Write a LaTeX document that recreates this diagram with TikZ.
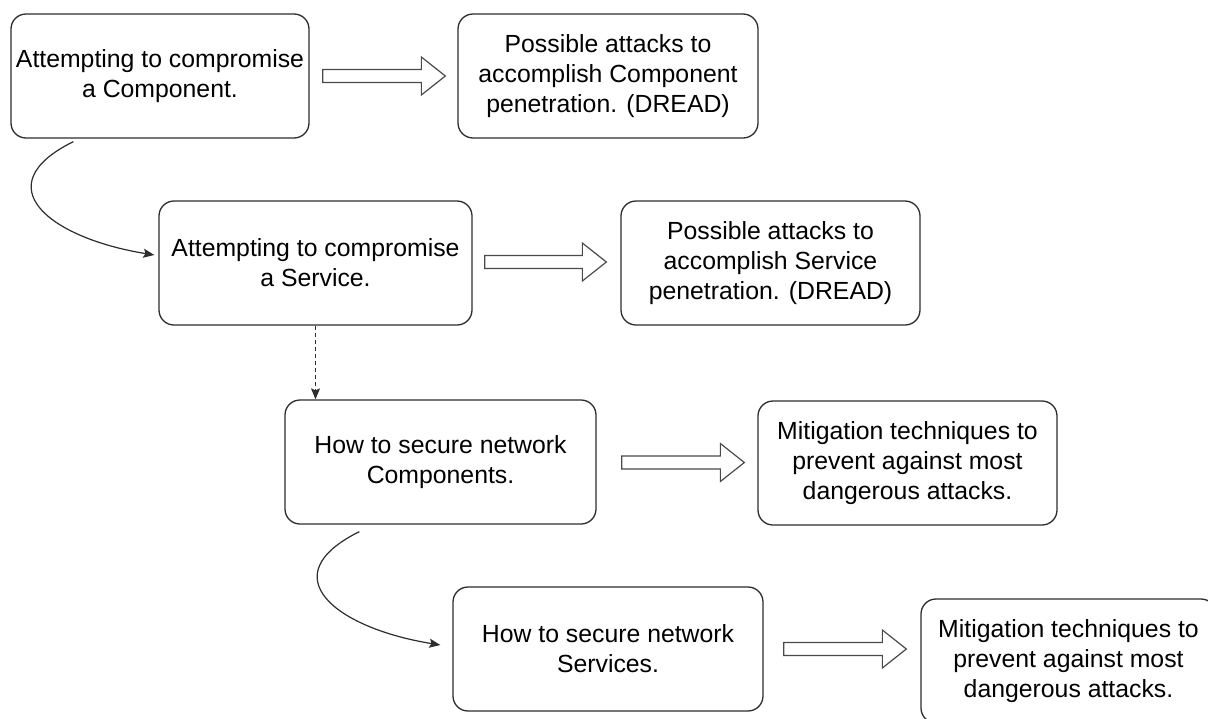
\documentclass[tikz,border=0pt]{standalone}
\usepackage{fontspec}
\setmainfont{Liberation Sans}
\usetikzlibrary{calc,arrows.meta}

\definecolor{boxline}{HTML}{2E2E2E}
\definecolor{fatline}{HTML}{4A4A4A}

\tikzset{
  stepbox/.style={draw=boxline, line width=1.3pt, rounded corners=15pt,
    align=center, inner sep=0pt, minimum height=124pt,
    font=\fontsize{24.8}{29.8}\selectfont},
  flow/.style={draw=boxline, line width=1.2pt,
    -{Stealth[length=11pt,width=9pt,inset=2pt]}},
  fat/.style={draw=fatline, line width=1.2pt, line join=miter, fill=white,
    to path={let \p1=(\tikztostart), \p2=(\tikztotarget) in
      (\x1,{\y1+6.5pt}) -- ({\x2-24pt},{\y1+6.5pt}) -- ({\x2-24pt},{\y1+19pt})
      -- (\x2,\y1) -- ({\x2-24pt},{\y1-19pt}) -- ({\x2-24pt},{\y1-6.5pt})
      -- (\x1,{\y1-6.5pt}) -- cycle}}
}

\begin{document}
\begin{tikzpicture}[x=1pt,y=-1pt]
\useasboundingbox (0,0) rectangle (1208,718);
\clip (0,0) rectangle (1208,718);
\fill[white] (0,0) rectangle (1208,718);

% process steps
\node[stepbox, minimum width=298pt] (A) at (160,76)
  {Attempting to compromise\\a Component.};
\node[stepbox, minimum width=300pt] (B) at (608,76)
  {Possible attacks to\\accomplish Component\\penetration. (DREAD)};
\node[stepbox, minimum width=313pt] (C) at (315.5,263)
  {Attempting to compromise\\a Service.};
\node[stepbox, minimum width=299pt] (D) at (770.5,263)
  {Possible attacks to\\accomplish Service\\penetration. (DREAD)};
\node[stepbox, minimum width=311pt] (E) at (440.5,462)
  {How to secure network\\Components.};
\node[stepbox, minimum width=299pt] (F) at (907.5,463)
  {Mitigation techniques to\\prevent against most\\dangerous attacks.};
\node[stepbox, minimum width=310pt] (G) at (608,649)
  {How to secure network\\Services.};
\node[stepbox, minimum width=295pt] (H) at (1068.5,661)
  {Mitigation techniques to\\prevent against most\\dangerous attacks.};

% hollow block arrows
\draw[fat] ($(A.east)+(13,0)$) to ($(B.west)+(-12,0)$);
\draw[fat] ($(C.east)+(12,-1)$) to ($(D.west)+(-14,-1)$);
\draw[fat] ($(E.east)+(25,0.5)$) to ($(E.east -| F.west)+(-13,0.5)$);
\draw[fat] ($(G.east)+(20,0)$) to ($(G.east -| H.west)+(-14,0)$);

% curved links
\coordinate (c1s) at ($(A.south west)+(63,3)$);
\coordinate (c1e) at ($(C.west)+(-4,-8)$);
\draw[flow] (c1s) .. controls +(-89,44) and +(-105,-17) .. (c1e);

\coordinate (c2s) at ($(E.south west)+(75,7)$);
\coordinate (c2e) at ($(G.west)+(-12,-4)$);
\draw[flow] (c2s) .. controls +(-89,44) and +(-105,-17) .. (c2e);

% dashed link
\draw[flow, dash pattern=on 4pt off 3pt] (C.south) -- (C.south |- E.north);
\end{tikzpicture}
\end{document}
